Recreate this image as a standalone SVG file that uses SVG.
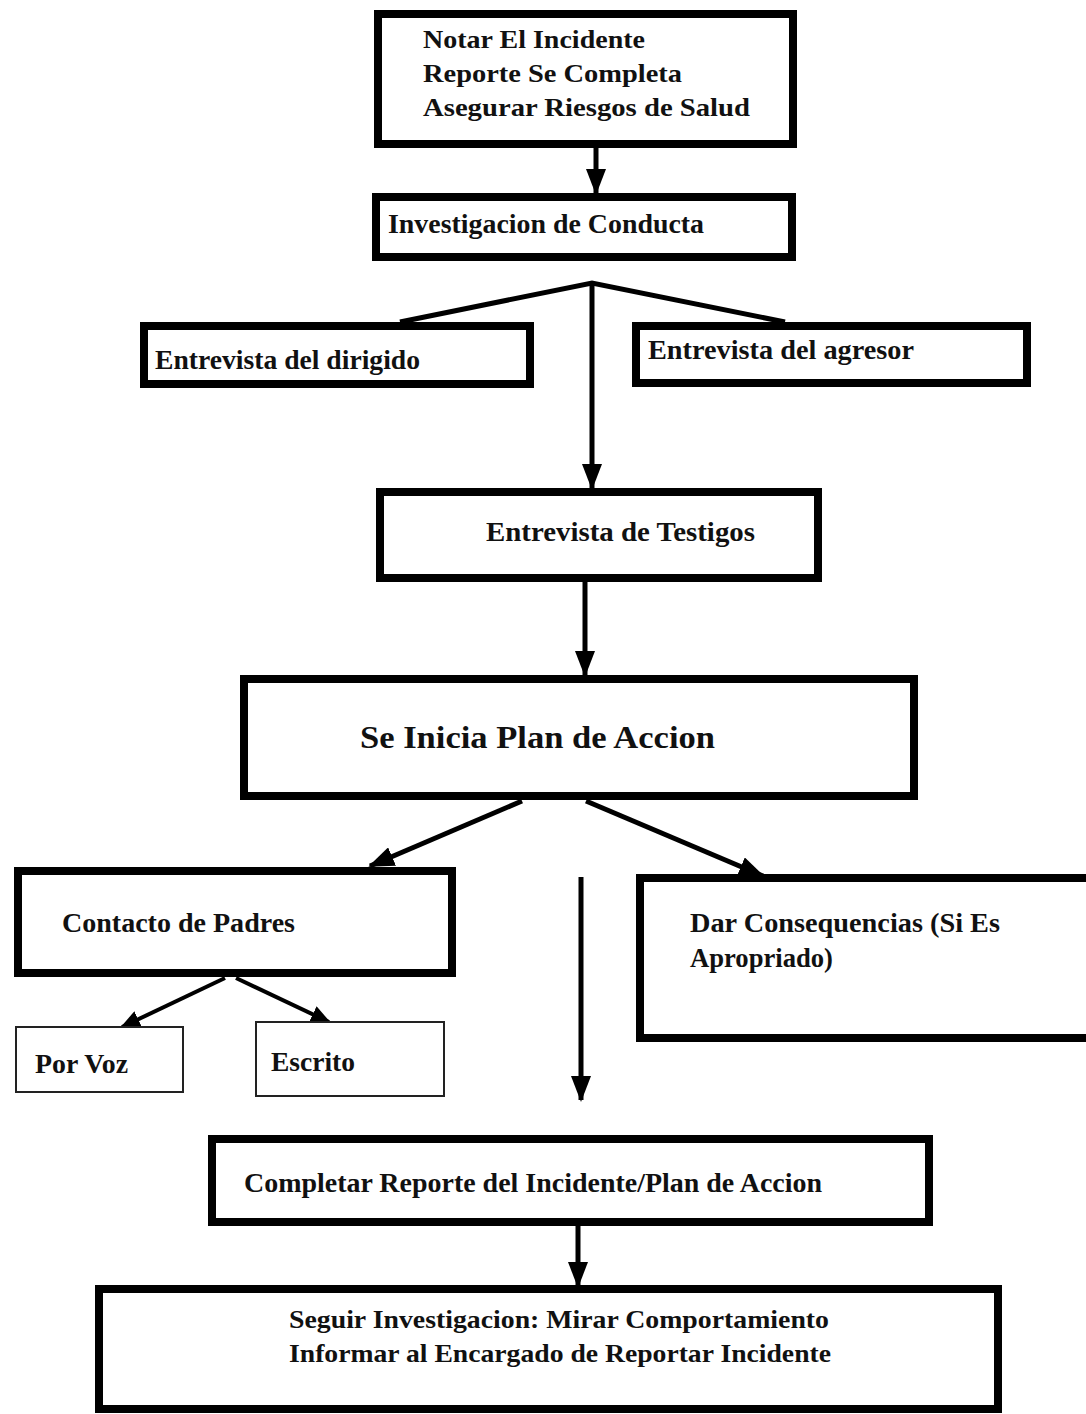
<svg xmlns="http://www.w3.org/2000/svg" width="1086" height="1414" viewBox="0 0 1086 1414">
<style>
.box{fill:#fff;stroke:#000;stroke-width:8}
.thin{fill:#fff;stroke:#222;stroke-width:2}
.t{font-family:"Liberation Serif","Times New Roman",serif;font-weight:bold;font-size:27px;fill:#111}
.s25{font-size:25px}
.s28{font-size:28px}
.s26{font-size:26px}
.c{stroke:#000;stroke-width:5;fill:none}
.cs{stroke:#000;stroke-width:4;fill:none}
</style>
<defs>
<marker id="ah" markerUnits="userSpaceOnUse" markerWidth="26" markerHeight="20" viewBox="0 0 26 20" refX="24" refY="10" orient="auto">
<path d="M0,0 L26,10 L0,20 Z" fill="#000"/>
</marker>
<marker id="ahs" markerUnits="userSpaceOnUse" markerWidth="20" markerHeight="18" viewBox="0 0 20 18" refX="18" refY="9" orient="auto">
<path d="M0,0 L20,9 L0,18 Z" fill="#000"/>
</marker>
</defs>
<rect width="1086" height="1414" fill="#fff"/>
<g id="connectors">
<line class="c" x1="596" y1="148" x2="596" y2="193" marker-end="url(#ah)"/>
<polyline class="c" points="400,322 592,283 785,322"/>
<line class="c" x1="592" y1="283" x2="592" y2="488" marker-end="url(#ah)"/>
<line class="c" x1="585" y1="582" x2="585" y2="675" marker-end="url(#ah)"/>
<line class="c" x1="522" y1="801" x2="370" y2="866" marker-end="url(#ah)"/>
<line class="c" x1="586" y1="801" x2="763" y2="876" marker-end="url(#ah)"/>
<line class="c" x1="581" y1="877" x2="581" y2="1100" marker-end="url(#ah)"/>
<line class="cs" x1="225" y1="978" x2="122" y2="1027" marker-end="url(#ahs)"/>
<line class="cs" x1="236" y1="978" x2="329" y2="1022" marker-end="url(#ahs)"/>
<line class="c" x1="578" y1="1226" x2="578" y2="1286" marker-end="url(#ah)"/>
</g>
<g id="n1">
<rect class="box" x="378" y="14" width="415" height="130"/>
<text class="t s25" x="423" y="48" textLength="222" lengthAdjust="spacingAndGlyphs">Notar El Incidente</text>
<text class="t s25" x="423" y="82" textLength="259" lengthAdjust="spacingAndGlyphs">Reporte Se Completa</text>
<text class="t s25" x="423" y="116" textLength="327" lengthAdjust="spacingAndGlyphs">Asegurar Riesgos de Salud</text>
</g>
<g id="n2">
<rect class="box" x="376" y="197" width="416" height="60"/>
<text class="t" x="388" y="233" textLength="316" lengthAdjust="spacingAndGlyphs">Investigacion de Conducta</text>
</g>
<g id="n3">
<rect class="box" x="144" y="326" width="386" height="58"/>
<text class="t s28" x="155" y="369" textLength="265" lengthAdjust="spacingAndGlyphs">Entrevista del dirigido</text>
</g>
<g id="n4">
<rect class="box" x="636" y="326" width="391" height="57"/>
<text class="t s28" x="648" y="359" textLength="266" lengthAdjust="spacingAndGlyphs">Entrevista del agresor</text>
</g>
<g id="n5">
<rect class="box" x="380" y="492" width="438" height="86"/>
<text class="t" x="486" y="541" textLength="269" lengthAdjust="spacingAndGlyphs">Entrevista de Testigos</text>
</g>
<g id="n6">
<rect class="box" x="244" y="679" width="670" height="117"/>
<text class="t" x="360" y="748" style="font-size:32px" textLength="355" lengthAdjust="spacingAndGlyphs">Se Inicia Plan de Accion</text>
</g>
<g id="n7">
<rect class="box" x="18" y="871" width="434" height="102"/>
<text class="t" x="62" y="932" textLength="233" lengthAdjust="spacingAndGlyphs">Contacto de Padres</text>
</g>
<g id="n8">
<rect class="thin" x="16" y="1027" width="167" height="65"/>
<text class="t" x="35" y="1073" textLength="93" lengthAdjust="spacingAndGlyphs">Por Voz</text>
</g>
<g id="n9">
<rect class="thin" x="256" y="1022" width="188" height="74"/>
<text class="t" x="271" y="1071" textLength="84" lengthAdjust="spacingAndGlyphs">Escrito</text>
</g>
<g id="n10">
<rect class="box" x="640" y="878" width="460" height="160"/>
<text class="t" x="690" y="932" textLength="310" lengthAdjust="spacingAndGlyphs">Dar Consequencias (Si Es</text>
<text class="t" x="690" y="967" textLength="143" lengthAdjust="spacingAndGlyphs">Apropriado)</text>
</g>
<g id="n11">
<rect class="box" x="212" y="1139" width="717" height="83"/>
<text class="t s28" x="244" y="1192" textLength="578" lengthAdjust="spacingAndGlyphs">Completar Reporte del Incidente/Plan de Accion</text>
</g>
<g id="n12">
<rect class="box" x="99" y="1289" width="899" height="120"/>
<text class="t s26" x="289" y="1328" textLength="540" lengthAdjust="spacingAndGlyphs">Seguir Investigacion: Mirar Comportamiento</text>
<text class="t s26" x="289" y="1362" textLength="542" lengthAdjust="spacingAndGlyphs">Informar al Encargado de Reportar Incidente</text>
</g>
</svg>
